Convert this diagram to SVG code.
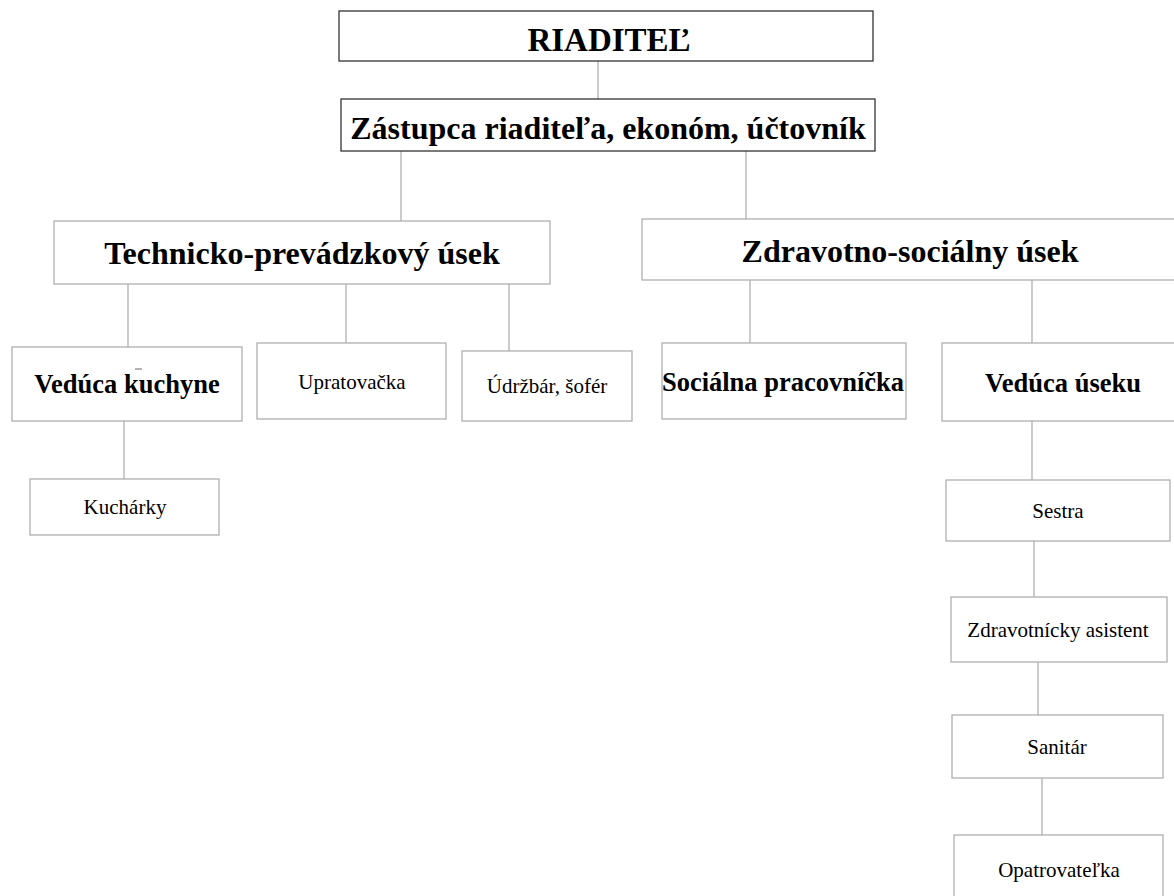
<svg xmlns="http://www.w3.org/2000/svg" width="1174" height="896" viewBox="0 0 1174 896">
<style>
.top{fill:#fff;stroke:#333;stroke-width:1.3}
.box{fill:#fff;stroke:#b0b0b0;stroke-width:1.3}
.c{stroke:#b0b0b0;stroke-width:1.3;fill:none}
text{font-family:"Liberation Serif","Times New Roman",serif;fill:#000;text-anchor:middle}
.b{font-weight:bold}
.h1{font-size:32px;font-weight:bold}
.h3{font-size:26.5px;font-weight:bold}
.n{font-size:21px}
</style>
<rect width="1174" height="896" fill="#fff"/>
<g id="connectors">
<line class="c" x1="598" y1="61" x2="598" y2="99"/>
<line class="c" x1="401" y1="151" x2="401" y2="221"/>
<line class="c" x1="746" y1="151" x2="746" y2="219"/>
<line class="c" x1="128" y1="284" x2="128" y2="347"/>
<line class="c" x1="346" y1="284" x2="346" y2="343"/>
<line class="c" x1="509" y1="284" x2="509" y2="351"/>
<line class="c" x1="124" y1="421" x2="124" y2="479"/>
<line class="c" x1="750" y1="280" x2="750" y2="343"/>
<line class="c" x1="1032" y1="280" x2="1032" y2="343"/>
<line class="c" x1="1032" y1="421" x2="1032" y2="480"/>
<line class="c" x1="1034" y1="541" x2="1034" y2="597"/>
<line class="c" x1="1038" y1="662" x2="1038" y2="715"/>
<line class="c" x1="1042" y1="778" x2="1042" y2="835"/>
</g>
<g id="riaditel">
<rect class="top" x="339" y="11" width="534" height="50"/>
<text class="b" x="609" y="51" font-size="33">RIADITEĽ</text>
</g>
<g id="zastupca">
<rect class="top" x="341" y="99" width="534" height="52"/>
<text class="h1" x="608" y="139">Zástupca riaditeľa, ekonóm, účtovník</text>
</g>
<g id="technicko">
<rect class="box" x="54" y="221" width="496" height="63"/>
<text class="h1" x="302" y="264">Technicko-prevádzkový úsek</text>
</g>
<g id="zdravotno">
<rect class="box" x="642" y="219" width="545" height="61"/>
<text class="h1" x="910" y="262">Zdravotno-sociálny úsek</text>
</g>
<g id="veduca-kuchyne">
<rect class="box" x="12" y="347" width="230" height="74"/>
<line x1="135" y1="369" x2="142" y2="369" stroke="#666" stroke-width="1"/>
<text class="h3" x="127" y="393">Vedúca kuchyne</text>
</g>
<g id="kucharky">
<rect class="box" x="30" y="479" width="189" height="56"/>
<text class="n" x="125" y="514">Kuchárky</text>
</g>
<g id="upratovacka">
<rect class="box" x="257" y="343" width="189" height="76"/>
<text class="n" x="352" y="389">Upratovačka</text>
</g>
<g id="udrzbar">
<rect class="box" x="462" y="351" width="170" height="70"/>
<text class="n" x="547" y="393">Údržbár, šofér</text>
</g>
<g id="socialna">
<rect class="box" x="662" y="343" width="244" height="76"/>
<text class="h3" x="783" y="391">Sociálna pracovníčka</text>
</g>
<g id="veduca-useku">
<rect class="box" x="942" y="343" width="245" height="78"/>
<text class="h3" x="1063" y="392">Vedúca úseku</text>
</g>
<g id="sestra">
<rect class="box" x="946" y="480" width="224" height="61"/>
<text class="n" x="1058" y="518">Sestra</text>
</g>
<g id="zdravotnicky">
<rect class="box" x="951" y="597" width="216" height="65"/>
<text class="n" x="1058" y="637">Zdravotnícky asistent</text>
</g>
<g id="sanitar">
<rect class="box" x="952" y="715" width="211" height="63"/>
<text class="n" x="1057" y="754">Sanitár</text>
</g>
<g id="opatrovatelka">
<rect class="box" x="954" y="835" width="209" height="75"/>
<text class="n" x="1059" y="877">Opatrovateľka</text>
</g>
</svg>
